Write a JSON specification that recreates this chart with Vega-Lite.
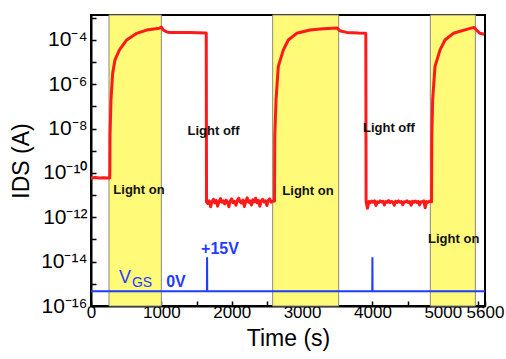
{
  "$schema": "https://vega.github.io/schema/vega-lite/v6.json",
  "width": 394,
  "height": 291,
  "autosize": {"type": "none"},
  "padding": {"left": 91, "top": 15, "right": 21, "bottom": 53},
  "background": "white",
  "config": {
    "view": {"stroke": "black", "strokeWidth": 2},
    "font": "Liberation Sans"
  },
  "datasets": {
    "bands": [
      {"start": 256, "end": 1000},
      {"start": 2582, "end": 3520},
      {"start": 4823, "end": 5463}
    ],
    "ids": [
      {"t": 0, "i": 6.0e-11}, {"t": 60, "i": 6.2e-11}, {"t": 120, "i": 5.9e-11}, {"t": 180, "i": 6.1e-11}, {"t": 240, "i": 5.9e-11}, {"t": 266, "i": 6.0e-11},
      {"t": 268, "i": 1.0e-10}, {"t": 270, "i": 4.5e-9}, {"t": 284, "i": 2.0e-7}, {"t": 308, "i": 3.2e-6}, {"t": 341, "i": 1.26e-5},
      {"t": 403, "i": 3.5e-5}, {"t": 507, "i": 1.0e-4}, {"t": 650, "i": 2.0e-4}, {"t": 791, "i": 2.8e-4}, {"t": 971, "i": 3.4e-4},
      {"t": 1000, "i": 3.8e-4}, {"t": 1030, "i": 2.8e-4}, {"t": 1080, "i": 2.3e-4}, {"t": 1123, "i": 2.2e-4}, {"t": 1400, "i": 2.15e-4}, {"t": 1638, "i": 2.05e-4},
      {"t": 1642, "i": 5.0e-12}, {"t": 1660, "i": 4.2e-12}, {"t": 1680, "i": 5.5e-12}, {"t": 1700, "i": 3.0e-12}, {"t": 1720, "i": 5.2e-12},
      {"t": 1740, "i": 6.5e-12}, {"t": 1760, "i": 4.5e-12}, {"t": 1780, "i": 5.8e-12}, {"t": 1800, "i": 3.2e-12}, {"t": 1820, "i": 5.0e-12},
      {"t": 1840, "i": 7.0e-12}, {"t": 1860, "i": 4.8e-12}, {"t": 1880, "i": 5.5e-12}, {"t": 1900, "i": 4.0e-12}, {"t": 1920, "i": 6.0e-12},
      {"t": 1940, "i": 5.0e-12}, {"t": 1960, "i": 3.0e-12}, {"t": 1980, "i": 5.5e-12}, {"t": 2000, "i": 6.8e-12}, {"t": 2020, "i": 4.6e-12},
      {"t": 2040, "i": 5.3e-12}, {"t": 2060, "i": 3.5e-12}, {"t": 2080, "i": 5.8e-12}, {"t": 2100, "i": 7.2e-12}, {"t": 2120, "i": 5.0e-12},
      {"t": 2140, "i": 4.4e-12}, {"t": 2160, "i": 6.0e-12}, {"t": 2180, "i": 3.1e-12}, {"t": 2200, "i": 5.4e-12}, {"t": 2220, "i": 7.5e-12},
      {"t": 2240, "i": 4.8e-12}, {"t": 2260, "i": 5.6e-12}, {"t": 2280, "i": 3.6e-12}, {"t": 2300, "i": 6.2e-12}, {"t": 2320, "i": 5.0e-12},
      {"t": 2340, "i": 7.3e-12}, {"t": 2360, "i": 4.5e-12}, {"t": 2380, "i": 5.8e-12}, {"t": 2400, "i": 3.2e-12}, {"t": 2420, "i": 5.5e-12},
      {"t": 2440, "i": 6.5e-12}, {"t": 2460, "i": 4.9e-12}, {"t": 2480, "i": 5.6e-12}, {"t": 2500, "i": 3.4e-12}, {"t": 2520, "i": 5.9e-12},
      {"t": 2540, "i": 6.8e-12}, {"t": 2560, "i": 4.8e-12}, {"t": 2580, "i": 5.3e-12}, {"t": 2608, "i": 5.5e-12},
      {"t": 2612, "i": 4.5e-9}, {"t": 2630, "i": 2.0e-7}, {"t": 2662, "i": 6.3e-6}, {"t": 2733, "i": 3.5e-5}, {"t": 2804, "i": 1.0e-4},
      {"t": 2923, "i": 2.0e-4}, {"t": 3113, "i": 2.8e-4}, {"t": 3300, "i": 3.2e-4}, {"t": 3500, "i": 3.5e-4}, {"t": 3535, "i": 2.6e-4},
      {"t": 3634, "i": 2.2e-4}, {"t": 3800, "i": 2.05e-4}, {"t": 3906, "i": 2.0e-4},
      {"t": 3910, "i": 4.9e-12}, {"t": 3930, "i": 2.6e-12}, {"t": 3950, "i": 5.2e-12}, {"t": 3970, "i": 4.6e-12}, {"t": 3990, "i": 5.4e-12},
      {"t": 4010, "i": 4.8e-12}, {"t": 4030, "i": 5.6e-12}, {"t": 4050, "i": 3.4e-12}, {"t": 4070, "i": 5.0e-12}, {"t": 4090, "i": 4.7e-12},
      {"t": 4110, "i": 5.5e-12}, {"t": 4130, "i": 4.9e-12}, {"t": 4150, "i": 5.3e-12}, {"t": 4170, "i": 3.6e-12}, {"t": 4190, "i": 5.1e-12},
      {"t": 4210, "i": 4.8e-12}, {"t": 4230, "i": 5.7e-12}, {"t": 4250, "i": 4.6e-12}, {"t": 4270, "i": 5.2e-12}, {"t": 4290, "i": 4.9e-12},
      {"t": 4310, "i": 3.5e-12}, {"t": 4330, "i": 5.3e-12}, {"t": 4350, "i": 4.7e-12}, {"t": 4370, "i": 5.5e-12}, {"t": 4390, "i": 4.8e-12},
      {"t": 4410, "i": 5.2e-12}, {"t": 4430, "i": 3.7e-12}, {"t": 4450, "i": 5.0e-12}, {"t": 4470, "i": 4.9e-12}, {"t": 4490, "i": 5.6e-12},
      {"t": 4510, "i": 4.6e-12}, {"t": 4530, "i": 5.1e-12}, {"t": 4550, "i": 3.5e-12}, {"t": 4570, "i": 5.3e-12}, {"t": 4590, "i": 4.8e-12},
      {"t": 4610, "i": 5.4e-12}, {"t": 4630, "i": 4.7e-12}, {"t": 4650, "i": 5.2e-12}, {"t": 4670, "i": 3.6e-12}, {"t": 4690, "i": 5.0e-12},
      {"t": 4710, "i": 4.9e-12}, {"t": 4730, "i": 5.5e-12}, {"t": 4750, "i": 2.7e-12}, {"t": 4770, "i": 5.1e-12}, {"t": 4790, "i": 4.8e-12},
      {"t": 4810, "i": 5.3e-12}, {"t": 4840, "i": 5.0e-12},
      {"t": 4844, "i": 4.5e-9}, {"t": 4856, "i": 2.0e-7}, {"t": 4889, "i": 6.3e-6}, {"t": 4960, "i": 3.5e-5}, {"t": 5031, "i": 1.0e-4},
      {"t": 5150, "i": 2.0e-4}, {"t": 5340, "i": 3.0e-4}, {"t": 5444, "i": 3.7e-4}, {"t": 5490, "i": 2.6e-4}, {"t": 5529, "i": 2.0e-4}, {"t": 5590, "i": 1.8e-4}
    ],
    "vgs": [
      {"t": 0, "i": 4.6e-16}, {"t": 1648, "i": 4.6e-16}, {"t": 1650, "i": 1.6e-14}, {"t": 1652, "i": 4.6e-16},
      {"t": 3998, "i": 4.6e-16}, {"t": 4000, "i": 1.6e-14}, {"t": 4002, "i": 4.6e-16}, {"t": 5600, "i": 4.6e-16}
    ],
    "labels": [
      {"t": 682, "i": 1.75e-11, "text": "Light on"},
      {"t": 1741, "i": 8.0e-9, "text": "Light off"},
      {"t": 3084, "i": 1.5e-11, "text": "Light on"},
      {"t": 4235, "i": 1.1e-8, "text": "Light off"},
      {"t": 5155, "i": 1.05e-13, "text": "Light on"}
    ],
    "blueBold": [
      {"t": 1833, "i": 3.9e-14, "text": "+15V"},
      {"t": 1208, "i": 1.17e-15, "text": "0V"}
    ],
    "blueV": [{"t": 483, "i": 1.86e-15, "text": "V"}],
    "blueGS": [{"t": 725, "i": 1.1e-15, "text": "GS"}]
  },
  "encoding": {
    "x": {
      "field": "t", "type": "quantitative",
      "scale": {"domain": [0, 5600], "nice": false, "zero": false},
      "axis": {
        "title": "Time (s)", "titleFontSize": 23, "titleFontWeight": "normal", "titleColor": "black", "titlePadding": 7,
        "values": [0, 500, 1000, 1500, 2000, 2500, 3000, 3500, 4000, 4500, 5000, 5500, 5600],
        "labelExpr": "datum.value % 1000 == 0 || datum.value == 5600 ? datum.label : ''",
        "format": "d",
        "labelFontSize": 17, "labelColor": "black", "labelPadding": 3, "labelFlush": false, "labelOverlap": false,
        "tickSize": -5, "tickColor": "black", "tickWidth": 1.5,
        "domainColor": "black", "domainWidth": 2, "grid": false
      }
    },
    "y": {
      "field": "i", "type": "quantitative",
      "scale": {"type": "log", "domain": [1e-16, 1.34e-3], "nice": false},
      "axis": {
        "title": "IDS (A)", "titleFontSize": 23, "titleFontWeight": "normal", "titleColor": "black", "titlePadding": 7,
        "values": [1e-16, 1e-15, 1e-14, 1e-13, 1e-12, 1e-11, 1e-10, 1e-9, 1e-8, 1e-7, 1e-6, 1e-5, 1e-4, 1e-3],
        "labelExpr": "['10⁻¹⁶','','10⁻¹⁴','','10⁻¹²','','10⁻¹⁰','','10⁻⁸','','10⁻⁶','','10⁻⁴','',''][round(log(datum.value)/LN10)+16]",
        "labelFontSize": 21, "labelColor": "black", "labelPadding": 9, "labelFlush": false, "labelOverlap": false,
        "tickSize": -5, "tickColor": "black", "tickWidth": 1.5,
        "domainColor": "black", "domainWidth": 2, "grid": false
      }
    }
  },
  "layer": [
    {
      "data": {"name": "bands"},
      "mark": {"type": "rect", "fill": "#fffa78", "stroke": "#8a8a7a", "strokeWidth": 1},
      "encoding": {"x": {"field": "start", "type": "quantitative"}, "x2": {"field": "end"}, "y": null}
    },
    {
      "data": {"name": "ids"},
      "mark": {"type": "line", "color": "#ff1a1a", "strokeWidth": 3, "strokeJoin": "round"},
      "encoding": {}
    },
    {
      "data": {"name": "vgs"},
      "mark": {"type": "line", "color": "#1f3cff", "strokeWidth": 2},
      "encoding": {}
    },
    {
      "data": {"name": "labels"},
      "mark": {"type": "text", "fontSize": 13, "fontWeight": "bold", "color": "#111", "font": "Liberation Sans"},
      "encoding": {"text": {"field": "text"}}
    },
    {
      "data": {"name": "blueBold"},
      "mark": {"type": "text", "fontSize": 16, "fontWeight": "bold", "color": "#1f3cff", "font": "Liberation Sans"},
      "encoding": {"text": {"field": "text"}}
    },
    {
      "data": {"name": "blueV"},
      "mark": {"type": "text", "fontSize": 18, "color": "#1f3cff", "font": "Liberation Sans"},
      "encoding": {"text": {"field": "text"}}
    },
    {
      "data": {"name": "blueGS"},
      "mark": {"type": "text", "fontSize": 14, "color": "#1f3cff", "font": "Liberation Sans"},
      "encoding": {"text": {"field": "text"}}
    }
  ]
}
